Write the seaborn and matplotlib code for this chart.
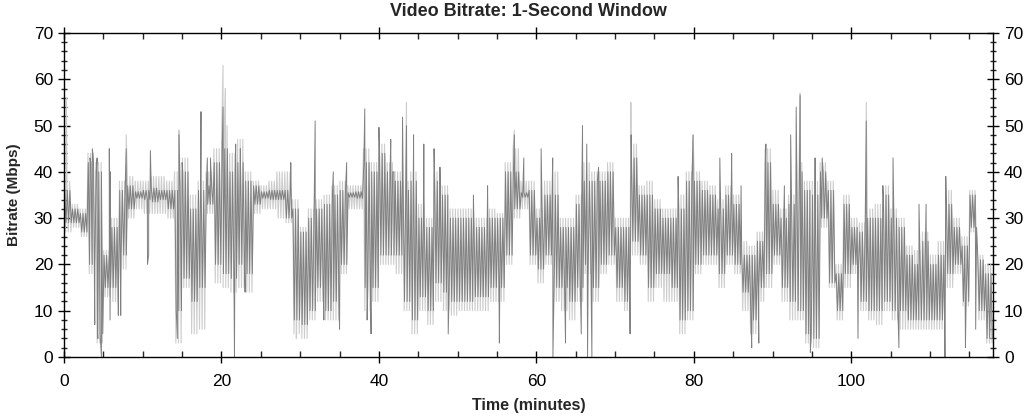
import matplotlib
matplotlib.use("Agg")
import matplotlib.pyplot as plt
import numpy as np
import pandas as pd
import seaborn as sns
from matplotlib.ticker import MultipleLocator

# Per-minute envelope of the 1-second bitrate trace (Mbps), minutes 0..117
dark_lo = [
    29, 29, 27, 20, 5, 15, 15, 22, 32, 34.3,
    34, 33.5, 34, 32, 10, 17, 12, 15, 33, 20,
    18, 17, 20, 18, 33, 34.3, 34, 34, 30, 8,
    7, 10, 15, 10, 12, 20, 34.5, 34.3, 15, 15,
    22, 22, 22, 12, 8, 13, 10, 16, 14, 12,
    12, 12, 13, 13, 15, 15, 22, 32, 34.5, 22,
    19, 22, 15, 15, 12, 15, 20, 15, 20, 22,
    15, 12, 25, 22, 15, 18, 18, 15, 8, 10,
    20, 22, 22, 18, 22, 20, 14, 8, 15, 18,
    22, 15, 12, 10, 5, 4, 30, 16, 10, 18,
    20, 12, 10, 10, 12, 10, 10, 8, 8, 8,
    8, 8, 18, 20, 12, 28, 10, 4,
]
dark_hi = [
    36, 32, 31, 42, 40, 22, 28, 36, 37, 35.7,
    36, 36.5, 36, 36, 36, 40, 32, 36, 37, 42,
    45, 40, 42, 38, 37, 35.7, 36, 36, 36, 32,
    27, 30, 32, 33, 35, 36, 35.5, 35.7, 42, 40,
    44, 40, 38, 36, 38, 30, 28, 38, 35, 30,
    30, 30, 28, 28, 30, 30, 40, 40, 35.5, 36,
    30, 35, 35, 28, 28, 33, 38, 38, 38, 40,
    28, 28, 43, 35, 35, 32, 30, 30, 32, 38,
    38, 36, 35, 32, 35, 33, 22, 22, 25, 42,
    33, 30, 33, 40, 36, 35, 40, 36, 18, 33,
    28, 27, 30, 30, 35, 30, 28, 22, 20, 25,
    20, 22, 33, 28, 24, 35, 21, 18,
]
light_lo = [
    27, 28, 26, 18, 3, 13, 12, 19, 30, 32,
    31, 31, 31, 30, 3, 15, 5, 6, 31, 16,
    15, 14, 15, 14, 31, 32, 32, 30, 29, 5,
    4, 8, 12, 8, 8, 18, 32, 32, 10, 12,
    20, 20, 18, 10, 5, 10, 7, 12, 10, 9,
    10, 10, 10, 10, 12, 12, 20, 30, 32, 20,
    16, 20, 12, 10, 8, 12, 18, 12, 18, 20,
    12, 10, 22, 20, 12, 15, 12, 12, 5, 8,
    18, 20, 20, 15, 20, 18, 10, 5, 12, 15,
    20, 12, 8, 8, 3, 2, 28, 15, 8, 15,
    18, 10, 8, 7, 10, 8, 6, 6, 6, 6,
    6, 6, 15, 18, 11, 27, 8, 3,
]
light_hi = [
    38, 33, 32, 44, 42, 23, 30, 38, 39, 38,
    38, 39, 39, 38, 40, 43, 35, 38, 40, 45,
    50, 44, 47, 40, 38, 37, 38, 40, 40, 34,
    28, 32, 34, 35, 37, 38, 37, 37, 45, 42,
    46, 42, 40, 38, 40, 33, 30, 40, 37, 32,
    32, 32, 30, 30, 32, 31, 42, 45, 38, 38,
    32, 38, 40, 30, 30, 35, 42, 40, 40, 42,
    30, 30, 46, 37, 38, 34, 32, 32, 35, 40,
    40, 38, 37, 34, 37, 35, 25, 24, 27, 45,
    36, 32, 35, 42, 38, 38, 42, 38, 20, 35,
    30, 29, 32, 33, 37, 32, 30, 24, 23, 27,
    22, 25, 36, 30, 26, 36, 22, 20,
]

# Isolated 1-second peaks and drops (minute, Mbps)
spike_t = [
    0.05, 3.3, 3.6, 3.9, 4.2, 4.3, 4.75, 5.75, 5.85, 5.9, 6.9, 7.2, 7.9,
    10.6, 10.75, 10.97, 14.4, 14.6, 15.0, 17.4, 18.2, 18.6, 20.2, 21.65,
    21.8, 22.4, 23.0, 28.8, 31.9, 33.0, 34.2, 35.0, 35.9, 38.2, 38.5, 39.0,
    40.0, 41.5, 41.9, 43.0, 43.5, 44.4, 45.7, 47.0, 47.75, 48.8, 52.0, 53.8,
    55.3, 57.2, 58.4, 60.6, 62.07, 62.1, 63.7, 65.7, 65.86, 66.4, 66.5,
    67.05, 67.9, 71.9, 72.03, 78.0, 79.9, 83.3, 84.8, 86.0, 87.35, 88.25,
    89.15, 91.5, 92.3, 93.0, 93.5, 94.8, 95.4, 96.3, 100.85, 101.9, 104.0,
    105.3, 106.05, 108.6, 109.5, 111.9, 112.0, 114.5, 115.8,
]
spike_v = [
    0, 43, 45, 7, 43, 4, 0, 45, 8, 40, 9, 9, 45,
    20, 22, 44.6, 4, 48, 42, 53, 43, 43, 54, 0,
    46, 45, 14, 42, 51, 8, 40, 6, 42, 53.6, 8, 5,
    49.6, 47, 40, 51.8, 50, 48, 46, 45, 41, 5, 35, 37,
    3, 48, 43, 45, 43, 0, 3, 5, 50, 46, 0,
    0, 41, 5, 48, 39, 48, 43, 44, 37, 2, 3,
    46, 37, 48, 54, 56.5, 1, 43, 43, 4, 51, 37,
    43, 2, 33, 33, 0, 39, 2, 6,
]
light_spike_t = [0.3, 7.9, 14.6, 20.2, 20.5, 29.5, 43.5, 57.2, 72.0, 79.9, 93.5, 101.9]
light_spike_v = [56, 48, 49, 63, 58, 4, 55, 49, 55, 48, 57, 55]


def trace(lo, hi, n, shift, extra_t, extra_v):
    # zig-zag between each minute's low and high readings
    ts, vs = [], []
    for m, (a, b) in enumerate(zip(lo, hi)):
        for k in range(n):
            ts.append(m + (k + shift) / n)
            vs.append(b if k % 2 == 0 else a)
    df = pd.DataFrame({"t": ts + list(extra_t), "v": vs + list(extra_v)})
    return df.sort_values("t").reset_index(drop=True)


def main():
    sns.set_style("ticks")
    plt.rcParams["font.family"] = ["Liberation Sans", "DejaVu Sans"]

    fig = plt.figure(figsize=(10.36, 4.17), dpi=100)
    ax = fig.add_axes([0.0618, 0.1439, 0.8967, 0.777])

    light = trace(light_lo, light_hi, 6, 0.25, light_spike_t, light_spike_v)
    dark = trace(dark_lo, dark_hi, 6, 0.5, spike_t, spike_v)

    sns.lineplot(data=light, x="t", y="v", estimator=None, color="#cdcdcd", lw=0.8, ax=ax)
    sns.lineplot(data=dark, x="t", y="v", estimator=None, color="#808080", lw=0.7, ax=ax)

    ax.set_xlim(0, 118)
    ax.set_ylim(0, 70)
    ax.xaxis.set_major_locator(MultipleLocator(20))
    ax.xaxis.set_minor_locator(MultipleLocator(5))
    ax.yaxis.set_major_locator(MultipleLocator(10))
    ax.yaxis.set_minor_locator(MultipleLocator(2))

    ax.tick_params(axis="x", which="major", direction="inout", length=9, width=1,
                   top=True, bottom=True, labelsize=12.5, colors="black", pad=8)
    ax.tick_params(axis="x", which="minor", direction="in", length=4, width=1,
                   top=True, bottom=True)
    ax.tick_params(axis="y", which="major", direction="inout", length=8, width=1,
                   left=True, right=True, labelleft=True, labelright=True,
                   labelsize=12.5, colors="black", pad=4)
    ax.tick_params(axis="y", which="minor", direction="inout", length=5, width=1,
                   left=True, right=True)
    for sp in ax.spines.values():
        sp.set_visible(True)
        sp.set_color("black")
        sp.set_linewidth(1)

    ax.set_title("Video Bitrate: 1-Second Window", fontsize=13, fontweight="bold", pad=12)
    ax.set_xlabel("Time (minutes)", fontsize=11.5, fontweight="bold", labelpad=6)
    ax.set_ylabel("Bitrate (Mbps)", fontsize=11, fontweight="bold", labelpad=9)

    fig.savefig("out.png", dpi=100)
    plt.close(fig)


if __name__ == "__main__":
    main()
